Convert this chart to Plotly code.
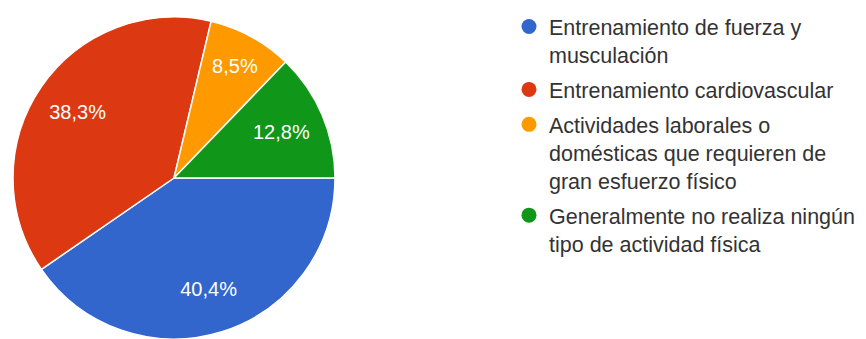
import plotly.graph_objects as go

# Physical-activity survey answers (share of respondents, %)
categories = [
    "Entrenamiento de fuerza y<br>musculación",
    "Entrenamiento cardiovascular",
    "Actividades laborales o<br>domésticas que requieren de<br>gran esfuerzo físico",
    "Generalmente no realiza ningún<br>tipo de actividad física",
]
shares = [40.4, 38.3, 8.5, 12.8]
colors = ["#3366cc", "#dc3912", "#ff9900", "#109618"]

W, H = 866, 339
FONT = "Arial, Liberation Sans, sans-serif"
PIE_X = [13 / W, 335 / W]
PIE_Y = [0, 322 / H]

fig = go.Figure()

# Filled pie with thin white separators
fig.add_trace(go.Pie(
    labels=categories,
    values=shares,
    sort=False,
    direction="clockwise",
    rotation=90,
    marker=dict(colors=colors, line=dict(color="white", width=1.5)),
    textinfo="none",
    hoverinfo="label+percent",
    showlegend=False,
    domain=dict(x=PIE_X, y=PIE_Y),
))

# Transparent ring on top that carries the percentage labels further out
fig.add_trace(go.Pie(
    labels=categories,
    values=shares,
    sort=False,
    direction="clockwise",
    rotation=90,
    hole=0.45,
    marker=dict(colors=["rgba(0,0,0,0)"] * len(shares), line=dict(width=0)),
    texttemplate="%{value:.1f}%",
    textposition="inside",
    insidetextorientation="horizontal",
    insidetextfont=dict(color="white", size=20, family=FONT),
    hoverinfo="skip",
    showlegend=False,
    domain=dict(x=PIE_X, y=PIE_Y),
))

# Legend entries with round markers, one group each for extra spacing
for i, (name, col) in enumerate(zip(categories, colors)):
    fig.add_trace(go.Scatter(
        x=[None], y=[None], mode="markers", name=name,
        legendgroup=f"g{i}",
        marker=dict(symbol="circle", size=15, color=col),
        showlegend=True, hoverinfo="skip",
    ))

fig.update_layout(
    width=W, height=H,
    margin=dict(l=0, r=0, t=0, b=0),
    paper_bgcolor="white",
    plot_bgcolor="white",
    separators=",.",
    font=dict(family=FONT, color="#333333", size=21.5),
    xaxis=dict(visible=False),
    yaxis=dict(visible=False),
    legend=dict(
        x=509 / W, xanchor="left",
        y=1.0 - 6 / H, yanchor="top",
        valign="top",
        maxheight=1,
        tracegroupgap=4,
        bgcolor="rgba(0,0,0,0)",
        font=dict(size=21.5, family=FONT, color="#333333"),
        itemclick=False, itemdoubleclick=False,
    ),
)

fig.write_html("out.html")
